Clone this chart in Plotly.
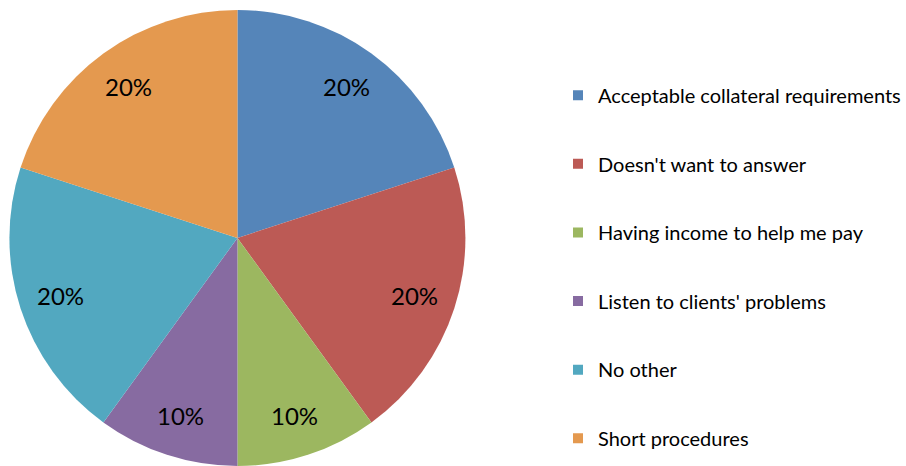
import math
import plotly.graph_objects as go

# Share of respondents by stated reason
labels = [
    "Acceptable collateral requirements",
    "Doesn't want to answer",
    "Having income to help me pay",
    "Listen to clients' problems",
    "No other",
    "Short procedures",
]
shares = [20, 20, 10, 10, 20, 20]
colors = ["#5585B9", "#BC5A55", "#9CB760", "#876BA1", "#52A8C0", "#E4994F"]

W, H = 906, 466
TOP = 10
plot_h = H - TOP
pie_w = 478

fig = go.Figure()

fig.add_trace(go.Pie(
    labels=labels,
    values=shares,
    sort=False,
    direction="clockwise",
    rotation=0,
    marker=dict(colors=colors, line=dict(width=0)),
    textinfo="none",
    domain=dict(x=[0, pie_w / W], y=[0, 1]),
    showlegend=False,
    hoverinfo="label+percent",
))

# Percentage labels placed along each slice's mid-angle, toward the rim
radius = min(pie_w, plot_h) / 2
cx, cy = pie_w / 2, TOP + plot_h / 2
total = sum(shares)
cum = 0
for v in shares:
    mid = (cum + v / 2) / total * 2 * math.pi
    cum += v
    px = cx + 0.82 * radius * math.sin(mid)
    py = cy - 0.82 * radius * math.cos(mid)
    fig.add_annotation(
        x=px / W, y=1 - (py - TOP) / plot_h,
        xref="paper", yref="paper",
        text=f"{round(v / total * 100)}%",
        showarrow=False,
        font=dict(family="Lato", size=24, color="#000000"),
        xanchor="center", yanchor="middle",
    )

# Legend entries as marker-only traces so the entries can be spaced apart
for name, col in zip(labels, colors):
    fig.add_trace(go.Scatter(
        x=[None], y=[None], mode="markers", name=name,
        marker=dict(symbol="square", size=10, color=col),
        legendgroup=name, showlegend=True,
    ))

fig.update_layout(
    width=W, height=H,
    margin=dict(l=0, r=0, t=TOP, b=0),
    paper_bgcolor="white",
    plot_bgcolor="white",
    xaxis=dict(visible=False),
    yaxis=dict(visible=False),
    legend=dict(
        x=562 / W, xanchor="left",
        y=0.437, yanchor="middle",
        font=dict(family="Lato", size=20, color="#000000"),
        tracegroupgap=39.6,
        itemclick=False,
        bgcolor="rgba(0,0,0,0)",
    ),
)

fig.write_html("out.html")
